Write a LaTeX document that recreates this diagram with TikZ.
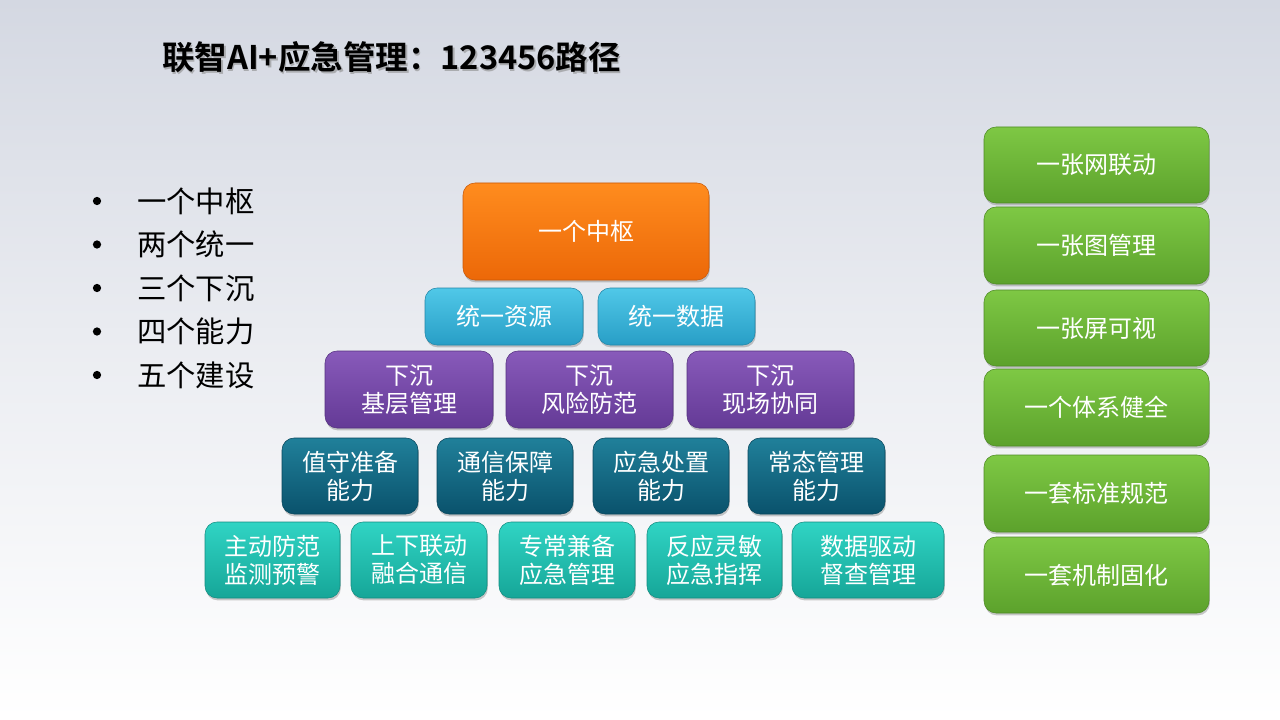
\documentclass[tikz,border=0pt]{standalone}
\usepackage{fontspec}
\setmainfont{Noto Sans CJK SC}
\newfontfamily\cjkbold{Noto Sans CJK SC Bold}
\usetikzlibrary{shadows}
\definecolor{bgtop}{RGB}{212,216,226}
\definecolor{orT}{RGB}{255,140,30}\definecolor{orB}{RGB}{236,104,8}
\definecolor{cyT}{RGB}{80,200,232}\definecolor{cyB}{RGB}{40,158,198}
\definecolor{puT}{RGB}{136,90,186}\definecolor{puB}{RGB}{100,58,150}
\definecolor{dtT}{RGB}{32,128,154}\definecolor{dtB}{RGB}{10,82,108}
\definecolor{tlT}{RGB}{48,212,196}\definecolor{tlB}{RGB}{22,166,152}
\definecolor{grT}{RGB}{126,200,68}\definecolor{grB}{RGB}{92,162,44}
\tikzset{
  sz/.style 2 args={minimum width=#1*0.75pt, minimum height=#2*0.75pt},
  tile/.style 2 args={rounded corners=9pt, top color=#1, bottom color=#2,
    draw=#2!85!black, line width=0.4pt, text=white, align=center,
    font=\fontsize{18pt}{21pt}\selectfont, inner sep=0pt,
    drop shadow={shadow xshift=0.6pt, shadow yshift=-1.8pt, opacity=0.35, fill=black!60}},
  ortile/.style={tile={orT}{orB}},
  cytile/.style={tile={cyT}{cyB}},
  putile/.style={tile={puT}{puB}},
  dttile/.style={tile={dtT}{dtB}},
  tltile/.style={tile={tlT}{tlB}},
  grtile/.style={tile={grT}{grB}},
  bullettext/.style={anchor=west, font=\fontsize{22pt}{26pt}\selectfont, text=black, inner sep=0pt},
  bulletdot/.style={circle, fill=black, inner sep=0pt, minimum size=6.2pt},
  titlefont/.style={anchor=west, inner sep=0pt, font=\cjkbold\fontsize{24.4pt}{28pt}\selectfont}
}
\begin{document}
\begin{tikzpicture}[x=0.75pt, y=-0.75pt]
\useasboundingbox (0,0) rectangle (1280,720);
\shade[top color=bgtop, bottom color=white, middle color=bgtop!45!white] (0,0) rectangle (1280,720);
% title
\node[titlefont, text=black!45, opacity=0.6] (titleshadow) at (163.5,59) {联智AI+应急管理：123456路径};
\node[titlefont, text=black] (title) at (162,57) {联智AI+应急管理：123456路径};
% bullets
\foreach \t [count=\i] in {一个中枢,两个统一,三个下沉,四个能力,五个建设}{
  \node[bulletdot] (d\i) at (97,{201+43.5*(\i-1)}) {};
  \node[bullettext] (b\i) at (137,{201+43.5*(\i-1)}) {\t};
}
% pyramid
\node[ortile, sz={246}{97}] (hub) at (586,231.5) {一个中枢};
\node[cytile, sz={158}{57}] (u1) at (504,316.5) {统一资源};
\node[cytile, sz={157}{57}] (u2) at (676.5,316.5) {统一数据};
\node[putile, sz={168}{77}] (s1) at (409,389.5) {下沉\\基层管理};
\node[putile, sz={167}{77}] (s2) at (589.5,389.5) {下沉\\风险防范};
\node[putile, sz={167}{77}] (s3) at (770.5,389.5) {下沉\\现场协同};
\node[dttile, sz={136}{76}] (c1) at (350,476) {值守准备\\能力};
\node[dttile, sz={136}{76}] (c2) at (505,476) {通信保障\\能力};
\node[dttile, sz={136}{76}] (c3) at (661,476) {应急处置\\能力};
\node[dttile, sz={137}{76}] (c4) at (816.5,476) {常态管理\\能力};
\node[tltile, sz={135}{76}] (f1) at (272.5,560) {主动防范\\监测预警};
\node[tltile, sz={136}{76}] (f2) at (419,560) {上下联动\\融合通信};
\node[tltile, sz={136}{76}] (f3) at (567,560) {专常兼备\\应急管理};
\node[tltile, sz={135}{76}] (f4) at (714.5,560) {反应灵敏\\应急指挥};
\node[tltile, sz={152}{76}] (f5) at (868,560) {数据驱动\\督查管理};
% right column
\node[grtile, sz={225}{76}] (g1) at (1096.5,165) {一张网联动};
\node[grtile, sz={225}{77}] (g2) at (1096.5,245.5) {一张图管理};
\node[grtile, sz={225}{76}] (g3) at (1096.5,328) {一张屏可视};
\node[grtile, sz={225}{77}] (g4) at (1096.5,407.5) {一个体系健全};
\node[grtile, sz={225}{77}] (g5) at (1096.5,493.5) {一套标准规范};
\node[grtile, sz={225}{76}] (g6) at (1096.5,575) {一套机制固化};
\end{tikzpicture}
\end{document}
